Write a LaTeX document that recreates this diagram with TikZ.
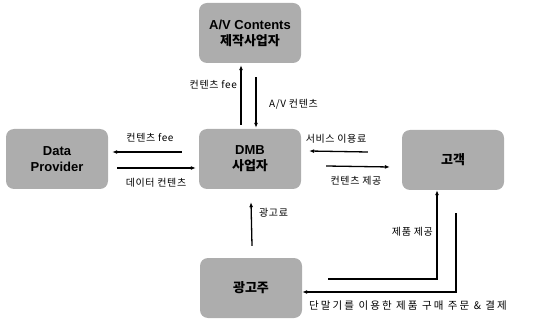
\documentclass[tikz,border=0pt]{standalone}
\usepackage{fontspec}
\setmainfont{Liberation Sans}
\newfontfamily\kr{Noto Sans CJK KR}
\newfontfamily\krl[LetterSpace=6]{Noto Sans CJK KR}
\newfontfamily\krw[LetterSpace=20]{Noto Sans CJK KR}
\usetikzlibrary{calc,arrows.meta}
\begin{document}
\begin{tikzpicture}[x=1pt,y=-1pt,
  box/.style={fill=black!32,rounded corners=8pt,minimum width=102pt,minimum height=60pt,align=center,font=\bfseries\fontsize{13}{16}\selectfont,inner sep=0pt},
  lbl/.style={font=\krl\fontsize{10}{12}\selectfont,inner sep=1pt},
  conn/.style={line width=1.3pt,-{Latex[length=5pt,width=4pt]}}]
\useasboundingbox (0,0) rectangle (537,320);
\node[box] (top) at (250,33) {A/V Contents\\{\kr\bfseries 제작사업자}};
\node[box] (dp) at (57,159) {Data\\Provider};
\node[box] (dmb) at (250,159) {DMB\\{\kr\bfseries 사업자}};
\node[box] (cust) at (453,160) {{\kr\bfseries 고객}};
\node[box] (adv) at (251,288) {{\kr\bfseries 광고주}};
% top arrows
\draw[conn] ($(dmb.north)+(-9,-4)$) -- ($(top.south)+(-9,2)$);
\draw[conn] ($(top.south)+(6,14)$) -- ($(dmb.north)+(6,-1)$);
\node[lbl,anchor=east] (l1) at (238,85) {컨텐츠 fee};
\node[lbl,anchor=west] (l2) at (268,104) {A/V 컨텐츠};
% left arrows
\draw[conn] ($(dmb.west)+(-17,-7)$) -- ($(dp.east)+(4,-7)$);
\draw[conn] ($(dp.east)+(9,9)$) -- ($(dmb.west)+(-3,9)$);
\node[lbl] (l3) at (150,138) {컨텐츠 fee};
\node[lbl] (l4) at (156,183) {데이터 컨텐츠};
% right arrows
\draw[conn] ($(cust.west)+(-34,-8)$) -- ($(dmb.east)+(8,-8)$);
\draw[conn] ($(dmb.east)+(25,7)$) -- ($(cust.west)+(-12,7)$);
\node[lbl] (l5) at (336,139) {서비스 이용료};
\node[lbl] (l6) at (356,181) {컨텐츠 제공};
% ad fee
\draw[conn] ($(adv.north)+(1,-12)$) -- ($(dmb.south)+(1,13)$);
\node[lbl,anchor=west] (l7) at (258,213) {광고료};
% product delivery
\coordinate (pd) at (437,279);
\draw[conn] ($(adv.east)+(26,-9)$) -- (pd) -- (pd |- cust.south);
\node[lbl,anchor=east] (l8) at (434,232) {제품 제공};
% order
\coordinate (oc) at (456,292);
\draw[conn] (456,213) -- (oc) -- (oc -| adv.east);
\node[lbl,anchor=west,font=\krw\fontsize{10.5}{12}\selectfont] (l9) at (308,306) {단말기를 이용한 제품 구매 주문 \& 결제};
\end{tikzpicture}
\end{document}
